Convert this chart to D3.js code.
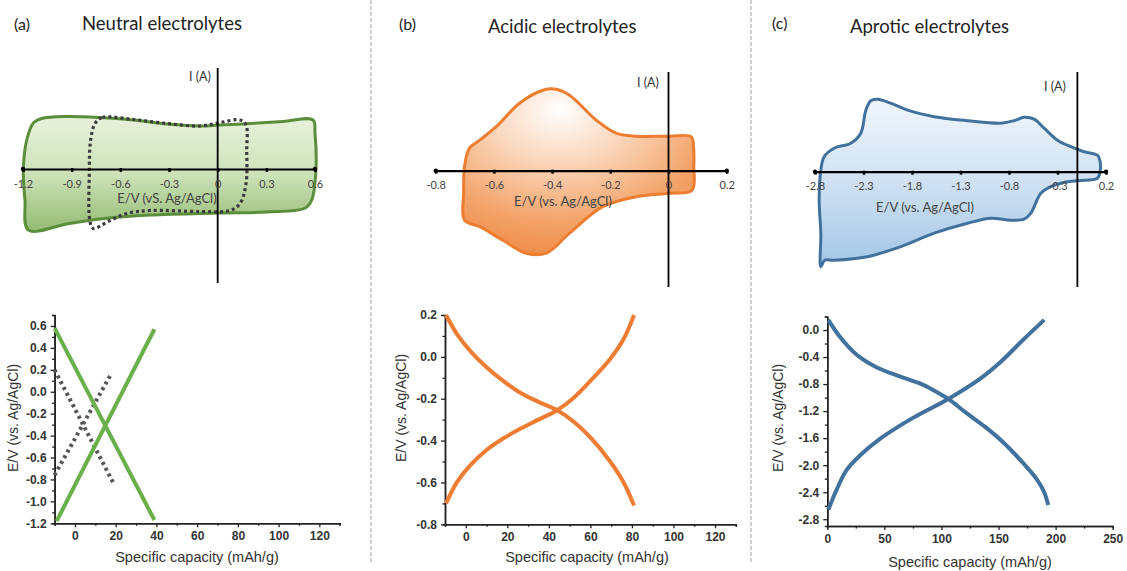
<!DOCTYPE html>
<html>
<head>
<meta charset="utf-8">
<script src="https://cdn.jsdelivr.net/npm/d3@7"></script>
<style>
  body { margin: 0; background: #fff; }
  svg { display: block; }
</style>
</head>
<body>
<div id="chart"></div>
<script>
// ---- CV loops: [E (V vs Ag/AgCl), I (arb. units)] ----
const cvNeutral = [
  [-1.085, 1.01], [-0.93, 1.05], [-0.725, 1.03], [-0.52, 0.98], [-0.31, 0.9], [-0.109, 0.86],
  [0.015, 0.88], [0.2, 0.91], [0.403, 0.95], [0.588, 0.98], [0.6, 0.72], [0.606, -0.02],
  [0.58, -0.62], [0.54, -0.78], [0.304, -0.86], [0.015, -0.88], [-0.417, -0.92], [-0.725, -1.0],
  [-0.93, -1.1], [-1.167, -1.22], [-1.188, -0.62], [-1.198, -0.02], [-1.177, 0.58], [-1.136, 0.92]
];
const cvNeutralNarrow = [
  [-0.756, 0.91], [-0.71, 1.03], [-0.52, 0.99], [-0.314, 0.91], [-0.109, 0.86], [0.015, 0.93],
  [0.138, 0.98], [0.175, 0.88], [0.179, 0.38], [0.175, -0.29], [0.138, -0.69], [0.076, -0.83],
  [-0.109, -0.85], [-0.417, -0.83], [-0.56, -0.89], [-0.664, -1.03], [-0.767, -1.19],
  [-0.787, -1.05], [-0.791, -0.02], [-0.783, 0.58]
];
const cvAcidic = [
  [-0.701, 0.08], [-0.684, 0.45], [-0.649, 0.61], [-0.592, 0.88], [-0.512, 1.35], [-0.432, 1.61],
  [-0.386, 1.63], [-0.34, 1.51], [-0.248, 1.01], [-0.18, 0.75], [-0.111, 0.69], [0.003, 0.69],
  [0.078, 0.68], [0.086, 0.48], [0.087, 0.08], [0.081, -0.39], [0.003, -0.45], [-0.111, -0.52],
  [-0.226, -0.72], [-0.34, -1.25], [-0.42, -1.65], [-0.489, -1.65], [-0.569, -1.39],
  [-0.649, -1.12], [-0.701, -0.99], [-0.704, -0.45]
];
const cvAprotic = [
  [-2.74, -1.9], [-2.74, -1.23], [-2.757, -0.57], [-2.74, 0.03], [-2.706, 0.3], [-2.603, 0.47],
  [-2.431, 0.57], [-2.328, 0.77], [-2.276, 1.23], [-2.225, 1.42], [-2.156, 1.45], [-2.019, 1.37],
  [-1.846, 1.23], [-1.572, 1.1], [-1.228, 1.02], [-0.885, 0.97], [-0.747, 1.02], [-0.644, 1.09],
  [-0.541, 1.05], [-0.438, 0.87], [-0.3, 0.63], [-0.163, 0.5], [-0.026, 0.4], [0.112, 0.33],
  [0.136, 0.23], [0.139, 0], [0.112, -0.13], [-0.026, -0.17], [-0.197, -0.2], [-0.369, -0.3],
  [-0.472, -0.43], [-0.575, -0.83], [-0.644, -0.95], [-0.781, -0.97], [-0.988, -0.93],
  [-1.228, -1.03], [-1.572, -1.23], [-1.915, -1.5], [-2.259, -1.7], [-2.603, -1.77], [-2.70, -1.77]
];

// ---- CV axis tick labels ----
const cvTicksA = [-1.2, -0.9, -0.6, -0.3, 0, 0.3, 0.6];
const cvTicksB = [-0.8, -0.6, -0.4, -0.2, 0, 0.2];
const cvTicksC = [-2.8, -2.3, -1.8, -1.3, -0.8, -0.3, 0.2];

// ---- galvanostatic curves: [capacity (mAh/g), E (V)] ----
const gcdNeutralDis = [[-10, 0.58], [39, -1.17]];
const gcdNeutralCha = [[-9, -1.18], [39, 0.57]];
const gcdNarrowDis = [[-10, 0.2], [18.8, -0.83]];
const gcdNarrowCha = [[-10, -0.76], [18, 0.17]];
const gcdAcidicDis = [
  [-9.5, 0.2], [-4.3, 0.11], [2, 0.03], [10, -0.05], [18, -0.115], [26, -0.17], [35, -0.215],
  [44, -0.255], [52, -0.31], [60, -0.385], [69.5, -0.5], [76, -0.6], [81, -0.71]
];
const gcdAcidicCha = [
  [-9.5, -0.7], [-4.3, -0.6], [2, -0.52], [10, -0.445], [18, -0.39], [26, -0.345], [35, -0.3],
  [44, -0.255], [52, -0.195], [60, -0.115], [69.5, -0.01], [76, 0.085], [81, 0.2]
];
const gcdAproticDis = [
  [0.9, 0.15], [11, -0.1], [26, -0.37], [43, -0.55], [64, -0.69], [81, -0.79], [93, -0.89],
  [106, -1.02], [122, -1.23], [138, -1.43], [154, -1.66], [170, -1.94], [184, -2.22],
  [190, -2.4], [193.5, -2.59]
];
const gcdAproticCha = [
  [0.9, -2.66], [8, -2.37], [17, -2.07], [29, -1.85], [47, -1.6], [75, -1.3], [106, -1.02],
  [134, -0.72], [152, -0.47], [170, -0.17], [190, 0.15]
];

// ---- GCD tick values ----
const capTicks120 = [0, 20, 40, 60, 80, 100, 120];
const capMinor120 = [-10, 10, 30, 50, 70, 90, 110, 130];
const capTicks250 = [0, 50, 100, 150, 200, 250];
const capMinor250 = [25, 75, 125, 175, 225];
const eTicksA = [-1.2, -1.0, -0.8, -0.6, -0.4, -0.2, 0.0, 0.2, 0.4, 0.6];
const eMinorA = [-1.1, -0.9, -0.7, -0.5, -0.3, -0.1, 0.1, 0.3, 0.5, 0.7];
const eTicksB = [-0.8, -0.6, -0.4, -0.2, 0.0, 0.2];
const eMinorB = [-0.7, -0.5, -0.3, -0.1, 0.1];
const eTicksC = [-2.8, -2.4, -2.0, -1.6, -1.2, -0.8, -0.4, 0.0];
const eMinorC = [-2.6, -2.2, -1.8, -1.4, -1.0, -0.6, -0.2, 0.2];

const W = 1127, H = 571;
const svg = d3.select("#chart").append("svg").attr("width", W).attr("height", H);
const defs = svg.append("defs");

const gGreen = defs.append("linearGradient").attr("id", "gGreen").attr("x1", 0).attr("y1", 0).attr("x2", 0).attr("y2", 1);
gGreen.append("stop").attr("offset", 0).attr("stop-color", "#e8f2dc");
gGreen.append("stop").attr("offset", 0.5).attr("stop-color", "#cde2b9");
gGreen.append("stop").attr("offset", 1).attr("stop-color", "#93ba72");

const gOrange = defs.append("radialGradient").attr("id", "gOrange")
  .attr("cx", "42%").attr("cy", "18%").attr("r", "85%").attr("fx", "42%").attr("fy", "12%");
gOrange.append("stop").attr("offset", 0).attr("stop-color", "#ffffff");
gOrange.append("stop").attr("offset", 0.35).attr("stop-color", "#fad7bd");
gOrange.append("stop").attr("offset", 0.75).attr("stop-color", "#f3a369");
gOrange.append("stop").attr("offset", 1).attr("stop-color", "#ef8b47");

const gBlue = defs.append("linearGradient").attr("id", "gBlue").attr("x1", 0).attr("y1", 0).attr("x2", 0).attr("y2", 1);
gBlue.append("stop").attr("offset", 0).attr("stop-color", "#f0f6fc");
gBlue.append("stop").attr("offset", 0.5).attr("stop-color", "#cfe1f2");
gBlue.append("stop").attr("offset", 1).attr("stop-color", "#a3c6e7");

// dashed separators
[371, 751].forEach(xs => {
  svg.append("line").attr("x1", xs).attr("x2", xs).attr("y1", 0).attr("y2", 562)
    .attr("stroke", "#b5b5b5").attr("stroke-width", 1.3).attr("stroke-dasharray", "4 2");
});

const calibri = "Lato, 'Open Sans', sans-serif";
const arial = "'Liberation Sans', Arial, sans-serif";

// panel titles
const titles = [
  {lab: "(a)", x: 14, y: 30, t: "Neutral electrolytes", tx: 82, ty: 30},
  {lab: "(b)", x: 399, y: 30, t: "Acidic electrolytes", tx: 488, ty: 33},
  {lab: "(c)", x: 772, y: 29, t: "Aprotic electrolytes", tx: 850, ty: 33}
];
titles.forEach(d => {
  svg.append("text").attr("x", d.x).attr("y", d.y).attr("font-family", calibri)
    .attr("font-size", 16).attr("fill", "#222").text(d.lab);
  svg.append("text").attr("x", d.tx).attr("y", d.ty).attr("font-family", calibri)
    .attr("font-size", 18.5).attr("fill", "#222").text(d.t);
});

// ---------- CV panels ----------
function cvPanel(cfg) {
  const g = svg.append("g");
  const x = d3.scaleLinear().domain(cfg.domain).range(cfg.range);
  const y = d3.scaleLinear().domain([-1, 1]).range([cfg.y0 + 50, cfg.y0 - 50]);
  const loop = d3.line().x(d => x(d[0])).y(d => y(d[1])).curve(d3.curveCatmullRomClosed.alpha(0.5));

  g.append("path").datum(cfg.loop).attr("d", loop)
    .attr("fill", cfg.fill).attr("stroke", cfg.stroke).attr("stroke-width", 3)
    .attr("stroke-linejoin", "round");

  if (cfg.dashed) {
    g.append("path").datum(cfg.dashed).attr("d", loop)
      .attr("fill", "none").attr("stroke", "#3b3b3b").attr("stroke-width", 3.2)
      .attr("stroke-dasharray", "3 3");
  }

  // current axis
  g.append("line").attr("x1", x(cfg.vx)).attr("x2", x(cfg.vx))
    .attr("y1", cfg.vTop).attr("y2", cfg.vBot).attr("stroke", "#000").attr("stroke-width", 1.8);

  // potential axis
  const ax = g.append("g").attr("transform", `translate(0,${cfg.y0})`)
    .call(d3.axisBottom(x).tickValues(cfg.ticks).tickSizeInner(3).tickSizeOuter(0)
      .tickPadding(8).tickFormat(d => String(d)));
  ax.select(".domain").attr("stroke", "#000").attr("stroke-width", 2.2);
  ax.selectAll(".tick line").attr("stroke", "#000").attr("stroke-width", 2.5).attr("y1", -1);
  ax.selectAll(".tick text").attr("font-family", calibri).attr("font-size", 11)
    .attr("fill", "#444");
  [cfg.domain[0], cfg.domain[1]].forEach(v => {
    g.append("circle").attr("cx", x(v)).attr("cy", cfg.y0).attr("r", 2.2).attr("fill", "#000");
  });

  g.append("text").attr("x", cfg.iLab[0]).attr("y", cfg.iLab[1]).attr("text-anchor", "middle")
    .attr("font-family", calibri).attr("font-size", 12.5).attr("fill", "#333").text("I (A)");
  g.append("text").attr("x", cfg.eLab[0]).attr("y", cfg.eLab[1]).attr("text-anchor", "middle")
    .attr("font-family", calibri).attr("font-size", 13).attr("fill", "#444").text(cfg.eText);
}

cvPanel({domain: [-1.2, 0.6], range: [23, 315], y0: 169, loop: cvNeutral, dashed: cvNeutralNarrow,
  fill: "url(#gGreen)", stroke: "#5b8e3b", vx: 0, vTop: 68, vBot: 283, ticks: cvTicksA,
  iLab: [200, 81], eLab: [167, 203], eText: "E/V (vS. Ag/AgCl)"});
cvPanel({domain: [-0.8, 0.2], range: [435.7, 726.7], y0: 170.7, loop: cvAcidic,
  fill: "url(#gOrange)", stroke: "#ed7d31", vx: 0, vTop: 72, vBot: 287, ticks: cvTicksB,
  iLab: [648, 87], eLab: [563, 206], eText: "E/V (vs. Ag/AgCl)"});
cvPanel({domain: [-2.8, 0.2], range: [815, 1106], y0: 171.7, loop: cvAprotic,
  fill: "url(#gBlue)", stroke: "#41719c", vx: -0.095, vTop: 72, vBot: 287, ticks: cvTicksC,
  iLab: [1055, 91], eLab: [925, 212], eText: "E/V (vs. Ag/AgCl)"});

// ---------- GCD panels ----------
function gcdPanel(cfg) {
  const g = svg.append("g");
  const x = d3.scaleLinear().domain(cfg.xDomain).range(cfg.xRange);
  const y = d3.scaleLinear().domain(cfg.yDomain).range(cfg.yRange);
  const x0 = cfg.xRange[0], yb = cfg.yRange[0];

  const xa = g.append("g").attr("transform", `translate(0,${yb})`)
    .call(d3.axisBottom(x).tickValues(cfg.xTicks).tickSizeInner(4).tickSizeOuter(0)
      .tickPadding(4).tickFormat(d => String(d)));
  const xm = g.append("g").attr("transform", `translate(0,${yb})`)
    .call(d3.axisBottom(x).tickValues(cfg.xMinor).tickSize(2.5).tickFormat(""));
  const ya = g.append("g").attr("transform", `translate(${x0},0)`)
    .call(d3.axisLeft(y).tickValues(cfg.yTicks).tickSizeInner(4).tickSizeOuter(0)
      .tickPadding(4).tickFormat(d => d.toFixed(1)));
  const ym = g.append("g").attr("transform", `translate(${x0},0)`)
    .call(d3.axisLeft(y).tickValues(cfg.yMinor).tickSize(2.5).tickFormat(""));
  [xa, xm, ya, ym].forEach(a => {
    a.select(".domain").attr("stroke", "#222").attr("stroke-width", 1.5);
    a.selectAll(".tick line").attr("stroke", "#222").attr("stroke-width", 1.3);
    a.selectAll(".tick text").attr("font-family", arial).attr("font-size", 12)
      .attr("font-weight", "bold").attr("fill", "#333");
  });

  const line = d3.line().x(d => x(d[0])).y(d => y(d[1])).curve(d3.curveCatmullRom.alpha(0.5));
  cfg.series.forEach(s => {
    g.append("path").datum(s.data).attr("d", line).attr("fill", "none")
      .attr("stroke", s.color).attr("stroke-width", s.width || 4)
      .attr("stroke-dasharray", s.dash || null);
  });

  g.append("text").attr("x", cfg.xLab[0]).attr("y", cfg.xLab[1]).attr("text-anchor", "middle")
    .attr("font-family", arial).attr("font-size", 14.5).attr("fill", "#333")
    .text("Specific capacity (mAh/g)");
  g.append("text").attr("transform", `translate(${cfg.yLab[0]},${cfg.yLab[1]}) rotate(-90)`)
    .attr("text-anchor", "middle").attr("dy", "0.35em")
    .attr("font-family", arial).attr("font-size", 14).attr("fill", "#333")
    .text("E/V (vs. Ag/AgCl)");
}

gcdPanel({xDomain: [-10, 130], xRange: [54.6, 339.7], yDomain: [-1.2, 0.7], yRange: [523.3, 315],
  xTicks: capTicks120, xMinor: capMinor120, yTicks: eTicksA, yMinor: eMinorA,
  series: [
    {data: gcdNarrowDis, color: "#555", width: 4, dash: "3 3.5"},
    {data: gcdNarrowCha, color: "#555", width: 4, dash: "3 3.5"},
    {data: gcdNeutralDis, color: "#6ab04a"},
    {data: gcdNeutralCha, color: "#6ab04a"}
  ],
  xLab: [197, 562], yLab: [13, 418]});
gcdPanel({xDomain: [-10, 130], xRange: [445, 735.8], yDomain: [-0.8, 0.2], yRange: [524.3, 315],
  xTicks: capTicks120, xMinor: capMinor120, yTicks: eTicksB, yMinor: eMinorB,
  series: [
    {data: gcdAcidicDis, color: "#ee7d33"},
    {data: gcdAcidicCha, color: "#ee7d33"}
  ],
  xLab: [587, 562], yLab: [401, 408]});
gcdPanel({xDomain: [0, 250], xRange: [827.3, 1112.7], yDomain: [-2.9, 0.2], yRange: [526, 316.5],
  xTicks: capTicks250, xMinor: capMinor250, yTicks: eTicksC, yMinor: eMinorC,
  series: [
    {data: gcdAproticDis, color: "#41719c"},
    {data: gcdAproticCha, color: "#41719c"}
  ],
  xLab: [970, 567], yLab: [778, 418]});
</script>
</body>
</html>
